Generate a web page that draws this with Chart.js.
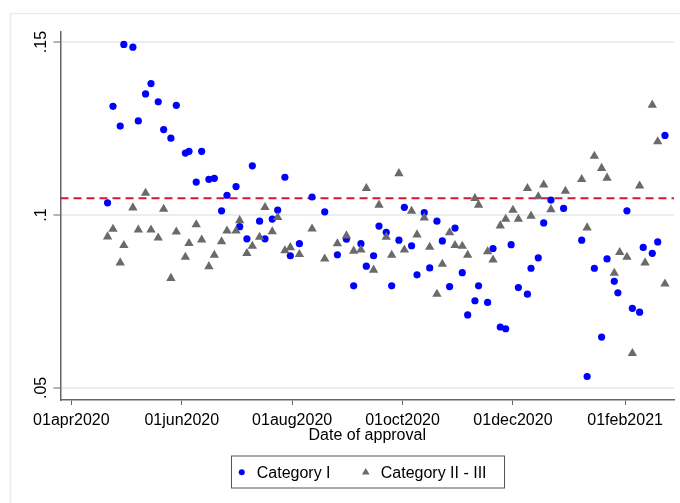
<!DOCTYPE html>
<html>
<head>
<meta charset="utf-8">
<script src="https://cdn.jsdelivr.net/npm/chart.js@4.4.1/dist/chart.umd.min.js"></script>
<style>
  html, body { margin: 0; padding: 0; background: #fff; }
  #wrap { width: 680px; height: 503px; }
</style>
</head>
<body>
<div id="wrap"><canvas id="myChart" width="680" height="503"></canvas></div>
<script>
// x axis: dates, ticks every two months
const tickDates = ['2020-04-01', '2020-06-01', '2020-08-01', '2020-10-01', '2020-12-01', '2021-02-01'];
const tickLabels = ['01apr2020', '01jun2020', '01aug2020', '01oct2020', '01dec2020', '01feb2021'];
const xMinDate = '2020-03-26';
const xMaxDate = '2021-02-28';

// y axis
const yTicks = [0.05, 0.1, 0.15];
const yTickLabels = ['.05', '.1', '.15'];
const yMin = 0.0465;
const yMax = 0.1529;
const refValue = 0.1048;

const seriesNames = ['Category I', 'Category II - III'];

const cat1Dates = [
  '2020-04-21', '2020-04-24', '2020-04-28', '2020-04-30', '2020-05-05', '2020-05-08', '2020-05-12', '2020-05-15',
  '2020-05-19', '2020-05-22', '2020-05-26', '2020-05-29', '2020-06-03', '2020-06-05', '2020-06-09', '2020-06-12',
  '2020-06-16', '2020-06-19', '2020-06-23', '2020-06-26', '2020-07-01', '2020-07-03', '2020-07-07', '2020-07-10',
  '2020-07-14', '2020-07-17', '2020-07-21', '2020-07-24', '2020-07-28', '2020-07-31', '2020-08-05', '2020-08-12',
  '2020-08-19', '2020-08-26', '2020-08-31', '2020-09-04', '2020-09-08', '2020-09-11', '2020-09-15', '2020-09-18',
  '2020-09-22', '2020-09-25', '2020-09-29', '2020-10-02', '2020-10-06', '2020-10-09', '2020-10-13', '2020-10-16',
  '2020-10-20', '2020-10-23', '2020-10-27', '2020-10-30', '2020-11-03', '2020-11-06', '2020-11-10', '2020-11-12',
  '2020-11-17', '2020-11-20', '2020-11-24', '2020-11-27', '2020-11-30', '2020-12-04', '2020-12-09', '2020-12-11',
  '2020-12-15', '2020-12-18', '2020-12-22', '2020-12-29', '2021-01-08', '2021-01-11', '2021-01-15', '2021-01-19',
  '2021-01-22', '2021-01-26', '2021-01-28', '2021-02-02', '2021-02-05', '2021-02-09', '2021-02-11', '2021-02-16',
  '2021-02-19', '2021-02-23'
];
const cat1Values = [
  0.1035, 0.1314, 0.1257, 0.1493, 0.1485, 0.1272, 0.1350, 0.1380,
  0.1327, 0.1247, 0.1222, 0.1317, 0.1179, 0.1184, 0.1095, 0.1184,
  0.1103, 0.1106, 0.1012, 0.1057, 0.1082, 0.0966, 0.0931, 0.1142,
  0.0982, 0.0931, 0.0988, 0.1014, 0.1109, 0.0882, 0.0917, 0.1052,
  0.1009, 0.0885, 0.0930, 0.0795, 0.0917, 0.0852, 0.0882, 0.0968,
  0.0950, 0.0795, 0.0927, 0.1022, 0.0911, 0.0827, 0.1007, 0.0847,
  0.0982, 0.0925, 0.0793, 0.0962, 0.0833, 0.0711, 0.0752, 0.0795,
  0.0747, 0.0903, 0.0676, 0.0671, 0.0914, 0.0790, 0.0771, 0.0846,
  0.0876, 0.0977, 0.1043, 0.1019, 0.0927, 0.0533, 0.0846, 0.0647,
  0.0873, 0.0808, 0.0775, 0.1012, 0.0730, 0.0719, 0.0906, 0.0889,
  0.0922, 0.1230
];

const cat23Dates = [
  '2020-04-21', '2020-04-24', '2020-04-28', '2020-04-30', '2020-05-05', '2020-05-08', '2020-05-12', '2020-05-15',
  '2020-05-19', '2020-05-22', '2020-05-26', '2020-05-29', '2020-06-03', '2020-06-05', '2020-06-09', '2020-06-12',
  '2020-06-16', '2020-06-19', '2020-06-23', '2020-06-26', '2020-07-01', '2020-07-03', '2020-07-07', '2020-07-10',
  '2020-07-14', '2020-07-17', '2020-07-21', '2020-07-24', '2020-07-28', '2020-07-31', '2020-08-05', '2020-08-12',
  '2020-08-19', '2020-08-26', '2020-08-31', '2020-09-04', '2020-09-08', '2020-09-11', '2020-09-15', '2020-09-18',
  '2020-09-22', '2020-09-25', '2020-09-29', '2020-10-02', '2020-10-06', '2020-10-09', '2020-10-13', '2020-10-16',
  '2020-10-20', '2020-10-23', '2020-10-27', '2020-10-30', '2020-11-03', '2020-11-06', '2020-11-10', '2020-11-12',
  '2020-11-17', '2020-11-20', '2020-11-24', '2020-11-27', '2020-12-01', '2020-12-04', '2020-12-09', '2020-12-11',
  '2020-12-15', '2020-12-18', '2020-12-22', '2020-12-30', '2021-01-08', '2021-01-11', '2021-01-15', '2021-01-19',
  '2021-01-22', '2021-01-26', '2021-01-29', '2021-02-02', '2021-02-05', '2021-02-09', '2021-02-12', '2021-02-16',
  '2021-02-19', '2021-02-23'
];
const cat23Values = [
  0.0937, 0.0959, 0.0862, 0.0912, 0.1021, 0.0957, 0.1063, 0.0957,
  0.0934, 0.1017, 0.0817, 0.0951, 0.0878, 0.0918, 0.0972, 0.0928,
  0.0851, 0.0884, 0.0923, 0.0954, 0.0954, 0.0984, 0.0889, 0.0910,
  0.0936, 0.1022, 0.0952, 0.0993, 0.0897, 0.0906, 0.0886, 0.0960,
  0.0873, 0.0917, 0.0940, 0.0896, 0.0899, 0.1077, 0.0841, 0.1029,
  0.0936, 0.0884, 0.1120, 0.0899, 0.1011, 0.0943, 0.0992, 0.0907,
  0.0771, 0.0858, 0.0949, 0.0912, 0.0910, 0.0884, 0.1048, 0.1029,
  0.0894, 0.0870, 0.0969, 0.0988, 0.1014, 0.0988, 0.1077, 0.0997,
  0.1053, 0.1087, 0.1016, 0.1069, 0.1103, 0.0963, 0.1170, 0.1135,
  0.1107, 0.0832, 0.0892, 0.0878, 0.0600, 0.1084, 0.0862, 0.1318,
  0.1212, 0.0801
];

const FONT = '"Liberation Sans", Arial, sans-serif';
const BLUE = '#0000ff';
const GRAY = '#6a6a6a';
const AXIS = '#666666';

const dayNum = s => Date.parse(s + 'T00:00:00Z') / 86400000;
const toPoints = (dates, values) => dates.map((d, i) => ({ x: dayNum(d), y: values[i] }));

// light frame of the graph region
const frame = {
  id: 'frame',
  beforeDraw(chart) {
    const ctx = chart.ctx;
    ctx.save();
    ctx.strokeStyle = '#e6edf1';
    ctx.lineWidth = 1.5;
    ctx.strokeRect(10.5, 13.5, 800, 600);
    ctx.restore();
  }
};

// vertical y tick labels, as Stata draws them
const yLabels = {
  id: 'yLabels',
  afterDraw(chart) {
    const ctx = chart.ctx;
    const y = chart.scales.y;
    ctx.save();
    ctx.font = '16px ' + FONT;
    ctx.fillStyle = '#000';
    ctx.textAlign = 'center';
    ctx.textBaseline = 'alphabetic';
    yTicks.forEach((v, i) => {
      ctx.save();
      ctx.translate(46, y.getPixelForValue(v));
      ctx.rotate(-Math.PI / 2);
      ctx.fillText(yTickLabels[i], 0, 0);
      ctx.restore();
    });
    ctx.restore();
  }
};

// boxed legend under the axis title
const legendBox = {
  id: 'legendBox',
  afterDraw(chart) {
    const ctx = chart.ctx;
    const cx = (chart.chartArea.left + chart.chartArea.right) / 2;
    const top = 455.5, h = 32, w = 273;
    const midY = 472.3;
    ctx.save();
    ctx.strokeStyle = '#555';
    ctx.lineWidth = 1;
    ctx.strokeRect(Math.round(cx - w / 2) + 0.5, top + 0.5, w, h);

    // marker Category I
    ctx.fillStyle = BLUE;
    ctx.beginPath();
    ctx.arc(cx - 125.5, midY, 3, 0, Math.PI * 2);
    ctx.fill();

    // marker Category II - III
    const tx = cx - 1.5, r = 4.4;
    ctx.fillStyle = GRAY;
    ctx.beginPath();
    ctx.moveTo(tx, midY - r);
    ctx.lineTo(tx + r * 0.866, midY + r / 2);
    ctx.lineTo(tx - r * 0.866, midY + r / 2);
    ctx.closePath();
    ctx.fill();

    ctx.fillStyle = '#000';
    ctx.font = '16px ' + FONT;
    ctx.textAlign = 'left';
    ctx.textBaseline = 'alphabetic';
    ctx.fillText(chart.data.datasets[0].label, cx - 110.5, 477.7);
    ctx.fillText(chart.data.datasets[1].label, cx + 13.5, 477.7);
    ctx.restore();
  }
};

const ctx = document.getElementById('myChart').getContext('2d');
new Chart(ctx, {
  type: 'scatter',
  data: {
    datasets: [
      {
        label: seriesNames[0],
        data: toPoints(cat1Dates, cat1Values),
        backgroundColor: BLUE,
        borderWidth: 0,
        pointRadius: 3.6,
        pointStyle: 'circle',
        order: 2
      },
      {
        label: seriesNames[1],
        data: toPoints(cat23Dates, cat23Values),
        backgroundColor: GRAY,
        borderWidth: 0,
        pointRadius: 5.4,
        pointStyle: 'triangle',
        order: 1
      },
      {
        label: 'mean',
        type: 'line',
        data: [{ x: dayNum(xMinDate), y: refValue }, { x: dayNum(xMaxDate), y: refValue }],
        borderColor: '#dc143c',
        borderWidth: 2,
        borderDash: [8, 5],
        pointRadius: 0,
        fill: false,
        order: 3
      }
    ]
  },
  options: {
    responsive: false,
    animation: false,
    layout: { padding: { top: 32, right: 6, bottom: 57.8, left: 0 } },
    plugins: {
      legend: { display: false },
      tooltip: { enabled: false }
    },
    scales: {
      x: {
        type: 'linear',
        min: dayNum(xMinDate),
        max: dayNum(xMaxDate),
        afterBuildTicks: s => { s.ticks = tickDates.map(d => ({ value: dayNum(d) })); },
        afterFit: s => { s.height = 45.2; },
        ticks: {
          autoSkip: false,
          maxRotation: 0,
          padding: 6,
          color: '#000',
          font: { family: FONT, size: 16 },
          callback: (v, i) => tickLabels[i]
        },
        grid: { drawOnChartArea: false, drawTicks: true, tickLength: 5, tickColor: AXIS, tickWidth: 1 },
        border: { display: true, color: AXIS, width: 1.5 },
        title: {
          display: true,
          text: 'Date of approval',
          color: '#000',
          font: { family: FONT, size: 16 },
          padding: 0
        }
      },
      y: {
        type: 'linear',
        min: yMin,
        max: yMax,
        afterBuildTicks: s => { s.ticks = yTicks.map(v => ({ value: v })); },
        afterFit: s => { s.width = 60.5; },
        ticks: { display: false },
        grid: { color: '#e8eff2', lineWidth: 2, drawTicks: true, tickLength: 7, tickColor: AXIS, tickWidth: 1 },
        border: { display: true, color: AXIS, width: 1.5 }
      }
    }
  },
  plugins: [frame, yLabels, legendBox]
});
</script>
</body>
</html>
